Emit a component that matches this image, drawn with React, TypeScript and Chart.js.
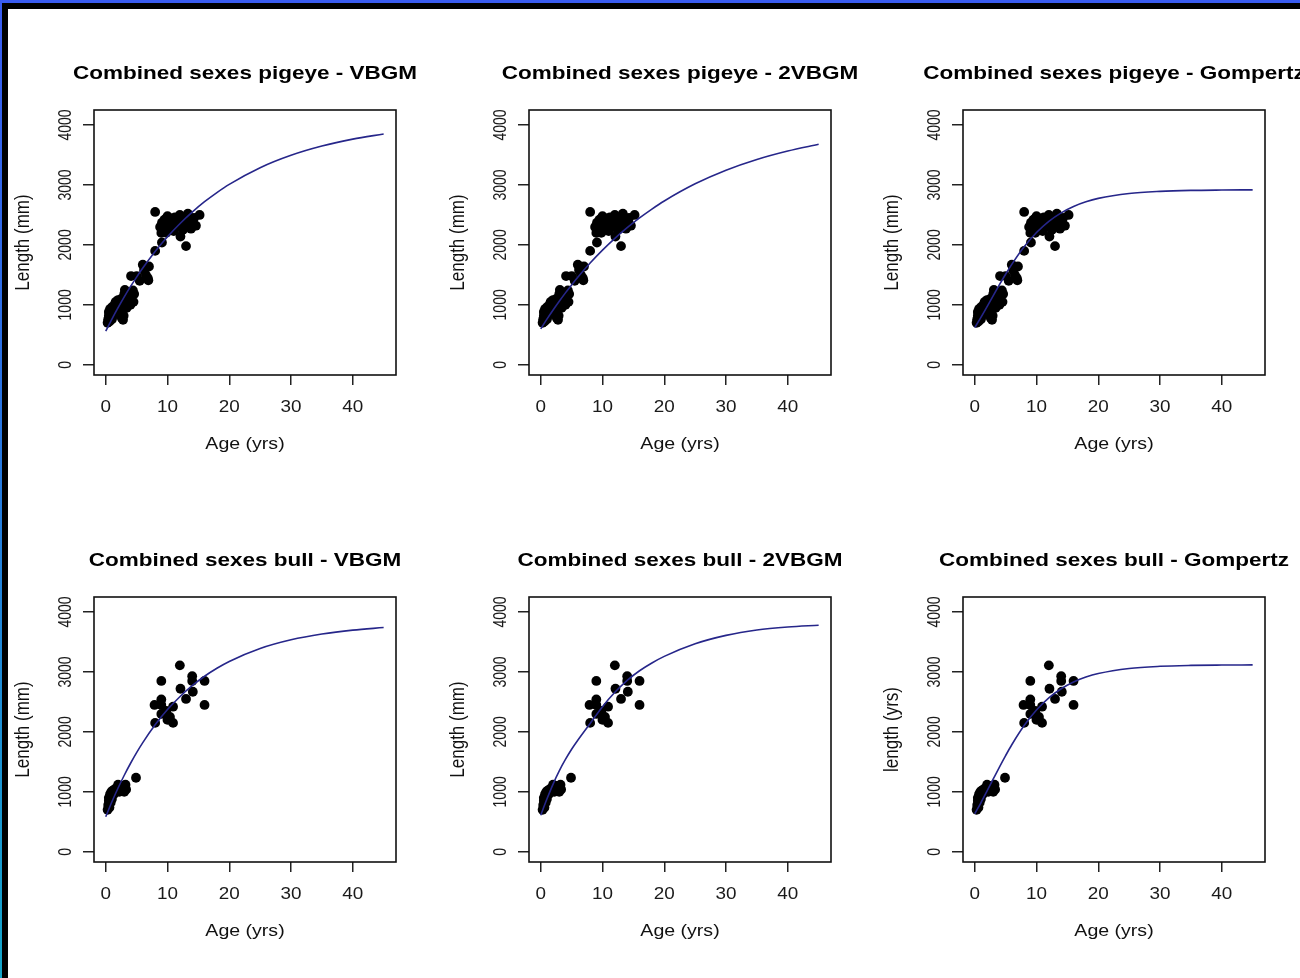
import React, { useEffect, useRef } from 'react';
import { Chart, registerables } from 'chart.js';

Chart.register(...registerables);

// ---------- tick labels ----------
const X_TICKS = [0, 10, 20, 30, 40];
const Y_TICKS = [0, 1000, 2000, 3000, 4000];

// ---------- pigeye observations ----------
const PIGEYE_AGE = [
  0.3, 0.4, 0.5, 0.5, 0.6, 0.7, 0.8, 0.9, 1.0, 1.0, 1.0, 1.2, 1.3, 1.4, 1.5, 1.6, 1.7, 1.8, 2.0, 2.0,
  2.2, 2.3, 2.5, 2.5, 2.6, 2.8, 2.9, 3.0, 3.0, 3.1, 3.2, 3.4, 3.5, 3.6, 3.8, 4.0, 4.0, 4.1, 4.2, 4.4,
  4.5, 4.6, 5.0, 5.5, 6.0, 6.2, 6.5, 6.8, 6.9, 7.0, 8.0, 8.0, 9.1, 8.8, 9.0, 9.1, 9.2, 9.5, 9.6, 9.8,
  10.0, 10.1, 10.3, 10.5, 10.8, 11.0, 11.2, 11.5, 11.8, 12.0, 12.1, 12.3, 12.5, 12.8, 13.0, 13.1, 13.3,
  13.5, 13.8, 14.1, 14.3, 14.6, 15.2,
];
const PIGEYE_LEN = [
  700, 760, 820, 880, 720, 930, 790, 850, 760, 900, 960, 820, 880, 1000, 940, 1050, 860, 980, 1080, 920,
  1010, 860, 1100, 960, 780, 750, 820, 1000, 1180, 1250, 1080, 950, 1150, 1050, 1200, 1100, 1000, 1480, 1160, 1240,
  1050, 1180, 1480, 1400, 1670, 1580, 1500, 1450, 1410, 1640, 1900, 2550, 2040, 2300, 2200, 2370, 2250, 2420, 2320, 2200,
  2480, 2380, 2280, 2440, 2350, 2230, 2460, 2400, 2300, 2500, 2140, 2380, 2250, 2450, 1980, 2330, 2520,
  2400, 2270, 2310, 2450, 2320, 2500,
];

// ---------- bull observations ----------
const BULL_AGE = [
  0.3, 0.4, 0.5, 0.5, 0.6, 0.7, 0.8, 0.9, 1.0, 1.0, 1.1, 1.3, 1.5, 1.7, 2.0, 2.0, 2.2, 2.5, 2.8, 3.0,
  3.0, 3.2, 3.3, 4.9, 8.0, 7.9, 9.0, 9.0, 9.0, 9.0, 9.8, 10.0, 10.4, 10.9, 10.9, 12.0, 12.1, 13.0, 14.0,
  14.0, 14.1, 16.0, 16.0,
];
const BULL_LEN = [
  700, 780, 850, 900, 740, 960, 820, 1000, 880, 940, 1020, 960, 1050, 1000, 1080, 1120, 1000, 1100, 1050, 1000,
  1080, 1120, 1040, 1235, 2150, 2450, 2850, 2540, 2450, 2300, 2350, 2200, 2250, 2150, 2420, 3110, 2720, 2550, 2930,
  2850, 2670, 2850, 2450,
];

// ---------- fitted curves ----------
const FIT_AGE = [0, 1, 2, 3, 4, 5, 6, 8, 10, 12, 14, 16, 18, 20, 25, 30, 35, 40, 45];
const PIG_VBGM = [560, 762, 953, 1133, 1303, 1463, 1614, 1890, 2135, 2353, 2547, 2720, 2873, 3010, 3288, 3495, 3649, 3764, 3850];
const PIG_2VBGM = [600, 761, 914, 1060, 1200, 1333, 1460, 1697, 1912, 2109, 2287, 2450, 2598, 2733, 3019, 3246, 3425, 3566, 3678];
const PIG_GOMP = [620, 791, 971, 1155, 1336, 1511, 1675, 1968, 2206, 2393, 2535, 2641, 2719, 2776, 2858, 2893, 2909, 2915, 2918];
const BULL_VBGM = [584, 834, 1064, 1277, 1473, 1654, 1821, 2118, 2372, 2587, 2771, 2928, 3061, 3175, 3391, 3536, 3633, 3698, 3741];
const BULL_2VBGM = [610, 880, 1130, 1350, 1540, 1710, 1860, 2140, 2420, 2660, 2860, 3020, 3150, 3260, 3470, 3610, 3700, 3750, 3780];
const BULL_GOMP = [634, 818, 1015, 1215, 1414, 1605, 1786, 2106, 2365, 2567, 2719, 2832, 2914, 2973, 3058, 3094, 3109, 3115, 3118];

const TITLES = [
  'Combined sexes pigeye - VBGM',
  'Combined sexes pigeye - 2VBGM',
  'Combined sexes pigeye - Gompertz',
  'Combined sexes bull - VBGM',
  'Combined sexes bull - 2VBGM',
  'Combined sexes bull - Gompertz',
];
const Y_LABELS = ['Length (mm)', 'Length (mm)', 'Length (mm)', 'Length (mm)', 'Length (mm)', 'length (yrs)'];
const X_LABEL = 'Age (yrs)';

const CANVAS_W = 435;
const CANVAS_H = 480;
const COL_LEFT = [0, 435, 869];
const ROW_TOP = [0, 487];

function drawText(
  ctx: CanvasRenderingContext2D,
  text: string,
  x: number,
  y: number,
  font: string,
  sx: number,
  rot: number,
  color: string
) {
  ctx.save();
  ctx.translate(x, y);
  ctx.scale(sx, 1);
  ctx.rotate(rot);
  ctx.font = font;
  ctx.fillStyle = color;
  ctx.textAlign = 'center';
  ctx.textBaseline = 'middle';
  ctx.fillText(text, 0, 0);
  ctx.restore();
}

function Panel({ idx }: { idx: number }) {
  const ref = useRef<HTMLCanvasElement | null>(null);
  const isPig = idx < 3;
  const fits = [PIG_VBGM, PIG_2VBGM, PIG_GOMP, BULL_VBGM, BULL_2VBGM, BULL_GOMP];
  useEffect(() => {
    const ages = isPig ? PIGEYE_AGE : BULL_AGE;
    const lens = isPig ? PIGEYE_LEN : BULL_LEN;
    const fit = fits[idx];
    const textPlugin = {
      id: 'rtext',
      afterDraw(chart: any) {
        const ctx = chart.ctx as CanvasRenderingContext2D;
        const a = chart.chartArea;
        const xs = chart.scales.x;
        const ys = chart.scales.y;
        ctx.save();
        ctx.strokeStyle = '#111';
        ctx.lineWidth = 1.6;
        ctx.strokeRect(a.left, a.top, a.right - a.left, a.bottom - a.top);
        ctx.restore();
        const cx = (a.left + a.right) / 2;
        const cy = (a.top + a.bottom) / 2;
        drawText(ctx, TITLES[idx], cx, a.top - 36, 'bold 18px "Liberation Sans", Arial, sans-serif', 1.25, 0, '#000');
        X_TICKS.forEach((v) => {
          drawText(ctx, String(v), xs.getPixelForValue(v), a.bottom + 33, '16px "Liberation Sans", Arial, sans-serif', 1.18, 0, '#1a1a1a');
        });
        Y_TICKS.forEach((v) => {
          drawText(ctx, String(v), a.left - 28, ys.getPixelForValue(v), '14px "Liberation Sans", Arial, sans-serif', 1.3, -Math.PI / 2, '#1a1a1a');
        });
        drawText(ctx, X_LABEL, cx, a.bottom + 69, '17px "Liberation Sans", Arial, sans-serif', 1.15, 0, '#111');
        drawText(ctx, Y_LABELS[idx], a.left - 70, cy, '17px "Liberation Sans", Arial, sans-serif', 1.15, -Math.PI / 2, '#111');
      },
    };
    const chart = new Chart(ref.current as HTMLCanvasElement, {
      type: 'scatter',
      data: {
        datasets: [
          {
            type: 'line',
            data: FIT_AGE.map((t, i) => ({ x: t, y: fit[i] })),
            borderColor: '#26268a',
            borderWidth: 1.6,
            pointRadius: 0,
            fill: false,
            cubicInterpolationMode: 'monotone',
            order: 0,
          } as any,
          {
            type: 'scatter',
            data: ages.map((t, i) => ({ x: t, y: lens[i] })),
            backgroundColor: '#000',
            borderColor: '#000',
            borderWidth: 0,
            pointRadius: 4.9,
            order: 1,
          } as any,
        ],
      },
      options: {
        responsive: false,
        animation: false,
        devicePixelRatio: 1,
        events: [],
        layout: { padding: { left: 74, right: 39, top: 110, bottom: 85 } },
        plugins: { legend: { display: false }, title: { display: false }, tooltip: { enabled: false } },
        scales: {
          x: {
            type: 'linear',
            min: -1.9,
            max: 47.0,
            afterBuildTicks: (s: any) => {
              s.ticks = X_TICKS.map((v) => ({ value: v }));
            },
            afterFit: (s: any) => {
              s.height = 20;
            },
            ticks: { display: false },
            grid: { display: true, drawOnChartArea: false, drawTicks: true, tickLength: 10, color: '#222', lineWidth: 1.5 },
            border: { display: false },
          },
          y: {
            type: 'linear',
            min: -170,
            max: 4250,
            afterBuildTicks: (s: any) => {
              s.ticks = Y_TICKS.map((v) => ({ value: v }));
            },
            afterFit: (s: any) => {
              s.width = 20;
            },
            ticks: { display: false },
            grid: { display: true, drawOnChartArea: false, drawTicks: true, tickLength: 11, color: '#222', lineWidth: 1.5 },
            border: { display: false },
          },
        },
      } as any,
      plugins: [textPlugin],
    });
    return () => chart.destroy();
  }, []);
  const col = idx % 3;
  const row = Math.floor(idx / 3);
  return (
    <canvas
      ref={ref}
      width={CANVAS_W}
      height={CANVAS_H}
      style={{ position: 'absolute', left: COL_LEFT[col], top: ROW_TOP[row], width: CANVAS_W, height: CANVAS_H }}
    />
  );
}

export default function App() {
  return (
    <div
      style={{
        position: 'absolute',
        left: 0,
        top: 0,
        width: 1300,
        height: 978,
        overflow: 'hidden',
        background: '#fff',
      }}
    >
      {[0, 1, 2, 3, 4, 5].map((i) => (
        <Panel key={i} idx={i} />
      ))}
      <div style={{ position: 'absolute', left: 0, top: 0, width: 1300, height: 3, background: '#3a5cf0' }} />
      <div style={{ position: 'absolute', left: 0, top: 3, width: 1300, height: 6, background: '#000' }} />
      <div style={{ position: 'absolute', left: 2, top: 3, width: 6, height: 975, background: '#000' }} />
      <div
        style={{
          position: 'absolute',
          left: 0,
          top: 0,
          width: 2,
          height: 978,
          background: 'linear-gradient(#3a5cf0, #2a72e0 40%, #14a4c8)',
        }}
      />
    </div>
  );
}
